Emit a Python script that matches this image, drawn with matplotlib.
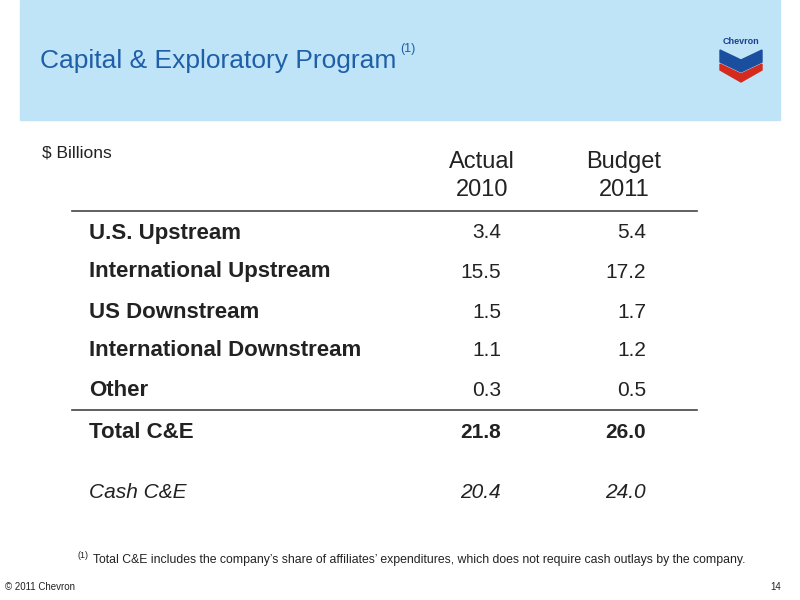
import matplotlib
matplotlib.use("Agg")
import matplotlib.pyplot as plt
from matplotlib.patches import Rectangle, Polygon
from matplotlib import font_manager as fm

categories = ["U.S. Upstream", "International Upstream", "US Downstream",
              "International Downstream", "Other"]
actual_2010 = [3.4, 15.5, 1.5, 1.1, 0.3]
budget_2011 = [5.4, 17.2, 1.7, 1.2, 0.5]
total_label = "Total C&E"
total_values = [21.8, 26.0]
cash_label = "Cash C&E"
cash_values = [20.4, 24.0]

names = {f.name for f in fm.fontManager.ttflist}
fam = next((n for n in ["Liberation Sans", "Arimo", "Arial", "Helvetica", "Roboto"] if n in names), "DejaVu Sans")
plt.rcParams['font.family'] = [fam, 'DejaVu Sans']
fig = plt.figure(figsize=(8, 6), dpi=100)
W, H = 800, 600
def P(x, y):
    return x / W, 1 - y / H

def txt(x, y, s, **kw):
    kw.setdefault("color", "#222222")
    fig.text(*P(x, y), s, **kw)

fig.patches.append(Rectangle(P(20, 120), 760 / W, 120 / H, transform=fig.transFigure,
                             color="#bfe4f8", zorder=0))
txt(40, 61, "Capital & Exploratory Program", fontsize=19, color="#1f5fa8", va="center")
txt(400, 49, "(1)", fontsize=9, color="#1f5fa8", va="center")

fig.text(*P(741, 41), "Chevron", fontsize=6.5, fontweight="bold", color="#1a3f8f", ha="center", va="center")
fig.patches.append(Polygon([P(720, 50), P(741, 60), P(762, 50), P(762, 62), P(741, 72), P(720, 62)],
                           closed=True, transform=fig.transFigure, color="#1a4fa0"))
fig.patches.append(Polygon([P(720, 64), P(741, 74), P(762, 64), P(762, 70), P(741, 82), P(720, 70)],
                           closed=True, transform=fig.transFigure, color="#d52b1e"))

txt(42, 153, "$ Billions", fontsize=12.5, va="center")
for x, a, b in [(482, "Actual", "2010"), (624, "Budget", "2011")]:
    txt(x, 162, a, fontsize=17, ha="center", va="center")
    txt(x, 190, b, fontsize=17, ha="center", va="center")

def hline(y):
    fig.add_artist(plt.Line2D([72 / W, 697 / W], [1 - y / H] * 2, color="#444444", lw=1.2))
hline(211)
hline(410)

ys = [233, 272, 312, 351, 391]
for y, c, a, b in zip(ys, categories, actual_2010, budget_2011):
    txt(89, y, c, fontsize=16, fontweight="bold", va="center")
    txt(501, y, f"{a:.1f}", fontsize=15, ha="right", va="center")
    txt(646, y, f"{b:.1f}", fontsize=15, ha="right", va="center")
txt(89, 432, total_label, fontsize=16, fontweight="bold", va="center")
txt(501, 432, f"{total_values[0]:.1f}", fontsize=15, fontweight="bold", ha="right", va="center")
txt(646, 432, f"{total_values[1]:.1f}", fontsize=15, fontweight="bold", ha="right", va="center")
txt(89, 493, cash_label, fontsize=15, style="italic", va="center")
txt(501, 493, f"{cash_values[0]:.1f}", fontsize=15, style="italic", ha="right", va="center")
txt(646, 493, f"{cash_values[1]:.1f}", fontsize=15, style="italic", ha="right", va="center")

txt(78, 556, "(1)", fontsize=6.5, va="center")
txt(93, 560, "Total C&E includes the company\u2019s share of affiliates\u2019 expenditures, which does not require cash outlays by the company.",
    fontsize=8.85, va="center")
txt(5, 587, "© 2011 Chevron", fontsize=7, va="center")
txt(770, 587, "14", fontsize=7, va="center")

fig.savefig("out.png", dpi=100)
